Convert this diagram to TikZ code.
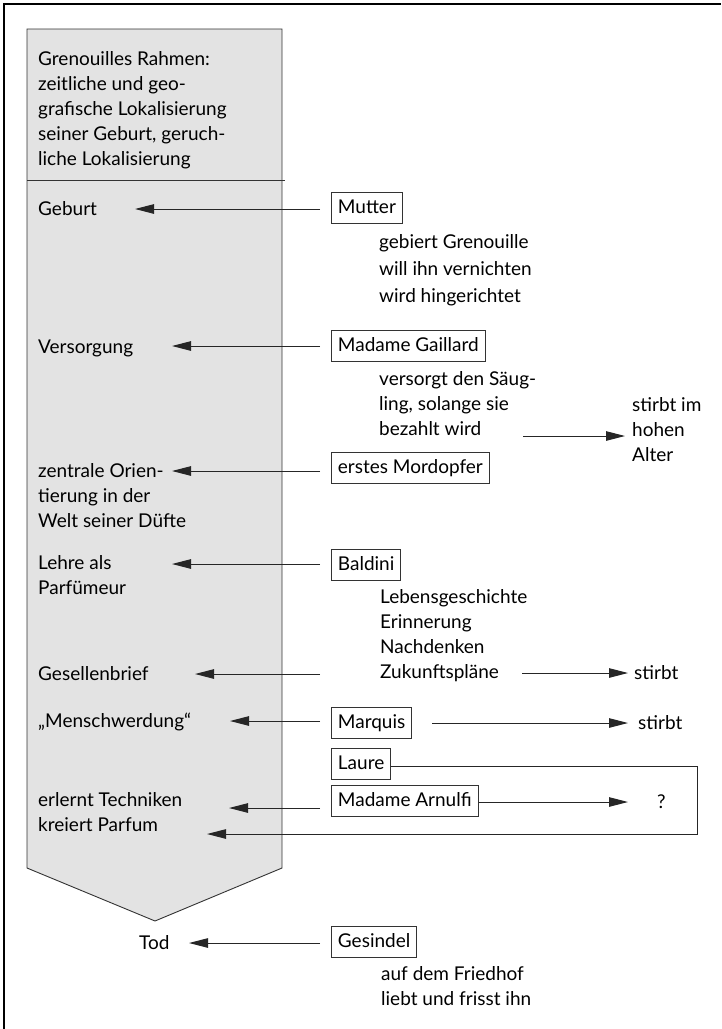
\documentclass[tikz,border=0pt]{standalone}
\usepackage{fontspec}
\setmainfont{Lato}
\usetikzlibrary{arrows.meta}
\newcommand\mlines[1]{\begin{tabular}[t]{@{}l@{}}#1\end{tabular}}
\begin{document}
\begin{tikzpicture}[x=1pt,y=-1pt,
  font=\fontsize{19}{25}\selectfont,
  txt/.style={inner sep=0pt,anchor=base west},
  tbox/.style={draw=black!80,line width=0.9pt,inner xsep=6.5pt,inner ysep=0pt,
    text height=14pt,text depth=4pt,minimum height=31pt,anchor=west},
  larr/.style={draw=black!85,line width=1pt,-{Triangle[length=19pt,width=9.5pt]}},
  frame/.style={draw=black,line width=1.4pt},
  shell/.style={draw=black!80,line width=0.9pt,fill=gray!22}]
\useasboundingbox (0,0) rectangle (721,1029);
% outer frame (top and left)
\draw[frame] (4,1029) -- (4,4) -- (721,4);
% grey column with chevron
\draw[shell] (27,29) -- (282,29) -- (282,868) -- (155,921) -- (27,868) -- cycle;
\draw[draw=black!80,line width=0.9pt] (27,180) -- (285,180);
% left column texts
\node[txt] (title) at (38,65) {\mlines{Grenouilles Rahmen:\\zeitliche und geo-\\grafische Lokalisierung\\seiner Geburt, geruch-\\liche Lokalisierung}};
\node[txt] (geburt) at (38,215) {Geburt};
\node[txt] (versorgung) at (38,353) {Versorgung};
\node[txt] (zentrale) at (38,477) {\mlines{zentrale Orien-\\tierung in der\\Welt seiner Düfte}};
\node[txt] (lehre) at (38,569) {\mlines{Lehre als\\Parfümeur}};
\node[txt] (gesellen) at (38,680) {Gesellenbrief};
\node[txt] (mensch) at (38,727) {„Menschwerdung“};
\node[txt] (erlernt) at (38,806) {\mlines{erlernt Techniken\\kreiert Parfum}};
\node[txt] (tod) at (139,949) {Tod};
% boxes on the right
\node[tbox] (mutter) at (331,208) {Mutter};
\node[tbox] (gaillard) at (331,346) {Madame Gaillard};
\node[tbox] (mord) at (331,468) {erstes Mordopfer};
\node[tbox] (baldini) at (331,565) {Baldini};
\node[tbox] (marquis) at (331,723) {Marquis};
\node[tbox] (laure) at (331,764) {Laure};
\node[tbox] (arnulfi) at (331,801) {Madame Arnulfi};
\node[tbox] (gesindel) at (331,942) {Gesindel};
% descriptions
\node[txt] (dmutter) at (379,248) {\mlines{gebiert Grenouille\\[2pt]will ihn vernichten\\[2pt]wird hingerichtet}};
\node[txt] (dgaillard) at (379,385) {\mlines{versorgt den Säug-\\ling, solange sie\\bezahlt wird}};
\node[txt] (alter) at (632,411) {\mlines{stirbt im\\hohen\\Alter}};
\node[txt] (dbaldini) at (380,603) {\mlines{Lebensgeschichte\\Erinnerung\\Nachdenken\\Zukunftspläne}};
\node[txt] (stirbt1) at (634,679) {stirbt};
\node[txt] (stirbt2) at (638,729) {stirbt};
\node[txt] (frage) at (657,808) {?};
\node[txt] (dgesindel) at (381,980) {\mlines{auf dem Friedhof\\liebt und frisst ihn}};
% arrow coordinates
\coordinate (s1) at (320,209); \coordinate (t1) at (135,209);
\coordinate (s2) at (320,346); \coordinate (t2) at (172,346);
\coordinate (s3) at (320,471); \coordinate (t3) at (172,471);
\coordinate (s4) at (320,564); \coordinate (t4) at (172,564);
\coordinate (s5) at (320,674); \coordinate (t5) at (195,674);
\coordinate (s6) at (320,721); \coordinate (t6) at (230,721);
\coordinate (s7) at (320,808); \coordinate (t7) at (229,808);
\coordinate (s8) at (320,943); \coordinate (t8) at (189,943);
\coordinate (l1) at (697,766); \coordinate (l2) at (697,834); \coordinate (t9) at (207,834);
\coordinate (r1s) at (523,436); \coordinate (r1t) at (625,436);
\coordinate (r2s) at (522,673); \coordinate (r2t) at (628,673);
\coordinate (r3s) at (432,723); \coordinate (r3t) at (628,723);
\coordinate (r4t) at (628,802);
% left arrows
\draw[larr] (s1) -- (t1);
\draw[larr] (s2) -- (t2);
\draw[larr] (s3) -- (t3);
\draw[larr] (s4) -- (t4);
\draw[larr] (s5) -- (t5);
\draw[larr] (s6) -- (t6);
\draw[larr] (s7) -- (t7);
\draw[larr] (s8) -- (t8);
\draw[larr] (laure.east |- l1) -- (l1) -- (l2) -- (t9);
% right arrows
\draw[larr] (r1s) -- (r1t);
\draw[larr] (r2s) -- (r2t);
\draw[larr] (r3s) -- (r3t);
\draw[larr] (arnulfi.east |- r4t) -- (r4t);
\end{tikzpicture}
\end{document}
